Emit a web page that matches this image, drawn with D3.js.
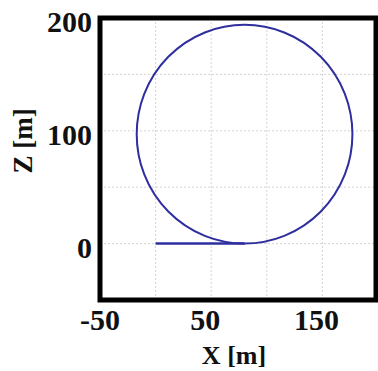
<!DOCTYPE html>
<html>
<head>
<meta charset="utf-8">
<script src="https://cdn.jsdelivr.net/npm/d3@7"></script>
<style>
  html, body { margin: 0; padding: 0; background: #fff; }
  svg { display: block; }
  text { font-family: "Liberation Serif", "Times New Roman", serif; font-weight: bold; fill: #111; }
</style>
</head>
<body>
<svg id="chart"></svg>
<script>
  // tick values (grid every 50, labels every other one)
  var xGrid = [-50, 0, 50, 100, 150, 200];
  var zGrid = [-50, 0, 50, 100, 150, 200];
  var xLabels = [-50, 50, 150];
  var zLabels = [0, 100, 200];

  // straight run along the ground, then the loop
  var runX = [0, 80];
  var runZ = [0, 0];
  var loopCenterX = 80;
  var loopCenterZ = 97;
  var loopRadius = 97;

  var width = 378, height = 371;
  var plot = { left: 100, top: 18, right: 378, bottom: 300 };

  var svg = d3.select("#chart")
    .attr("width", width)
    .attr("height", height);

  var x = d3.scaleLinear().domain([-50, 200]).range([plot.left, plot.right]);
  var z = d3.scaleLinear().domain([-50, 200]).range([plot.bottom, plot.top]);

  /***** grille *****/
  svg.append("g").selectAll("line")
    .data(xGrid.slice(1, -1))
    .enter().append("line")
    .attr("x1", function (d) { return x(d); })
    .attr("x2", function (d) { return x(d); })
    .attr("y1", plot.top)
    .attr("y2", plot.bottom)
    .attr("stroke", "#d4d4d4")
    .attr("stroke-width", 1)
    .attr("stroke-dasharray", "2,2");

  svg.append("g").selectAll("line")
    .data(zGrid.slice(1, -1))
    .enter().append("line")
    .attr("x1", plot.left)
    .attr("x2", plot.right)
    .attr("y1", function (d) { return z(d); })
    .attr("y2", function (d) { return z(d); })
    .attr("stroke", "#d4d4d4")
    .attr("stroke-width", 1)
    .attr("stroke-dasharray", "2,2");

  /***** trajectoire *****/
  var line = d3.line()
    .x(function (d) { return x(d[0]); })
    .y(function (d) { return z(d[1]); });

  svg.append("path")
    .datum(d3.zip(runX, runZ))
    .attr("d", line)
    .attr("fill", "none")
    .attr("stroke", "#2e2e9e")
    .attr("stroke-width", 2.5);

  svg.append("ellipse")
    .attr("cx", x(loopCenterX))
    .attr("cy", z(loopCenterZ))
    .attr("rx", x(loopCenterX + loopRadius) - x(loopCenterX))
    .attr("ry", z(loopCenterZ - loopRadius) - z(loopCenterZ))
    .attr("fill", "none")
    .attr("stroke", "#2e2e9e")
    .attr("stroke-width", 2);

  /***** cadre *****/
  svg.append("rect")
    .attr("x", plot.left)
    .attr("y", plot.top)
    .attr("width", plot.right - plot.left - 2)
    .attr("height", plot.bottom - plot.top)
    .attr("fill", "none")
    .attr("stroke", "#000")
    .attr("stroke-width", 5);

  /***** étiquettes *****/
  svg.append("g").selectAll("text")
    .data(xLabels)
    .enter().append("text")
    .attr("x", function (d) { return x(d) + (d < 0 ? 0 : -6); })
    .attr("y", 330)
    .attr("text-anchor", "middle")
    .style("font-size", "30px")
    .text(function (d) { return d; });

  svg.append("g").selectAll("text")
    .data(zLabels)
    .enter().append("text")
    .attr("x", 92)
    .attr("y", function (d) { return z(d) + 14; })
    .attr("text-anchor", "end")
    .style("font-size", "30px")
    .text(function (d) { return d; });

  svg.append("text")
    .attr("x", 234)
    .attr("y", 364)
    .attr("text-anchor", "middle")
    .style("font-size", "26px")
    .text("X [m]");

  svg.append("text")
    .attr("transform", "translate(32,141) rotate(-90)")
    .attr("text-anchor", "middle")
    .style("font-size", "27px")
    .text("Z [m]");
</script>
</body>
</html>
